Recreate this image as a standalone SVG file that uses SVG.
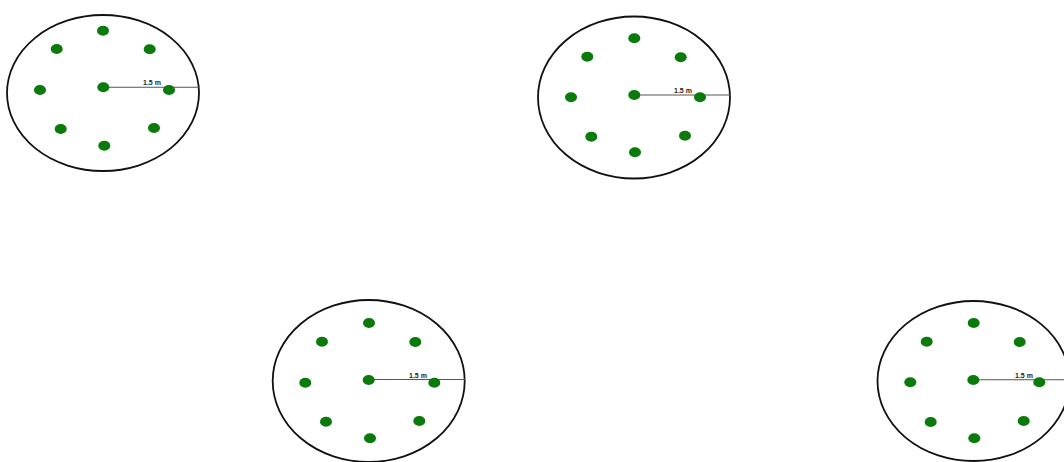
<svg xmlns="http://www.w3.org/2000/svg" width="1064" height="462" viewBox="0 0 1064 462">
  <style>
    .plot { fill: #ffffff; stroke: #111111; stroke-width: 1.8; }
    .tree { fill: #0a7a0a; stroke: none; }
    .radius { stroke: #555555; stroke-width: 1.1; fill: none; }
    .lbl { font-family: "Liberation Sans", Arial, sans-serif; font-size: 7px; font-weight: bold; fill: #222222; }
  </style>
  <rect width="1064" height="462" fill="#ffffff"/>

  <!-- plot 1: top left -->
  <g id="plot-1">
    <ellipse class="plot" cx="103" cy="93" rx="96" ry="78"/>
    <line class="radius" x1="103" y1="87.3" x2="199" y2="87.3"/>
    <text class="lbl" x="143" y="85">1.5 m</text>
    <ellipse class="tree" cx="103.3" cy="87.3" rx="6" ry="5"/>
    <ellipse class="tree" cx="103" cy="30.7" rx="6" ry="5"/>
    <ellipse class="tree" cx="56.7" cy="49" rx="6" ry="5"/>
    <ellipse class="tree" cx="149.7" cy="49.3" rx="6" ry="5"/>
    <ellipse class="tree" cx="40" cy="90" rx="6" ry="5"/>
    <ellipse class="tree" cx="169" cy="90" rx="6" ry="5"/>
    <ellipse class="tree" cx="60.7" cy="129" rx="6" ry="5"/>
    <ellipse class="tree" cx="154" cy="128" rx="6" ry="5"/>
    <ellipse class="tree" cx="104.3" cy="145.7" rx="6" ry="5"/>
  </g>

  <!-- plot 2: top right -->
  <g id="plot-2">
    <ellipse class="plot" cx="634" cy="97.5" rx="96" ry="81"/>
    <line class="radius" x1="634" y1="95" x2="730" y2="95"/>
    <text class="lbl" x="674" y="92.5">1.5 m</text>
    <ellipse class="tree" cx="634.3" cy="95" rx="6" ry="5"/>
    <ellipse class="tree" cx="634.3" cy="38.3" rx="6" ry="5"/>
    <ellipse class="tree" cx="587.3" cy="56.7" rx="6" ry="5"/>
    <ellipse class="tree" cx="680.7" cy="57.3" rx="6" ry="5"/>
    <ellipse class="tree" cx="571" cy="97.3" rx="6" ry="5"/>
    <ellipse class="tree" cx="700" cy="97.3" rx="6" ry="5"/>
    <ellipse class="tree" cx="591.3" cy="136.7" rx="6" ry="5"/>
    <ellipse class="tree" cx="685" cy="135.7" rx="6" ry="5"/>
    <ellipse class="tree" cx="635" cy="152.3" rx="6" ry="5"/>
  </g>

  <!-- plot 3: bottom middle -->
  <g id="plot-3">
    <ellipse class="plot" cx="368.7" cy="381" rx="96" ry="81"/>
    <line class="radius" x1="369" y1="379.5" x2="465" y2="379.5"/>
    <text class="lbl" x="409" y="377.5">1.5 m</text>
    <ellipse class="tree" cx="368.7" cy="380" rx="6" ry="5"/>
    <ellipse class="tree" cx="369" cy="323" rx="6" ry="5"/>
    <ellipse class="tree" cx="322" cy="341.7" rx="6" ry="5"/>
    <ellipse class="tree" cx="415.3" cy="342" rx="6" ry="5"/>
    <ellipse class="tree" cx="305.3" cy="382.7" rx="6" ry="5"/>
    <ellipse class="tree" cx="434.3" cy="382.7" rx="6" ry="5"/>
    <ellipse class="tree" cx="326" cy="421.7" rx="6" ry="5"/>
    <ellipse class="tree" cx="419.3" cy="421" rx="6" ry="5"/>
    <ellipse class="tree" cx="370" cy="438.3" rx="6" ry="5"/>
  </g>

  <!-- plot 4: bottom right -->
  <g id="plot-4">
    <ellipse class="plot" cx="973.5" cy="381" rx="96" ry="80"/>
    <line class="radius" x1="973" y1="379.7" x2="1064" y2="379.7"/>
    <text class="lbl" x="1015" y="377.5">1.5 m</text>
    <ellipse class="tree" cx="973.3" cy="380" rx="6" ry="5"/>
    <ellipse class="tree" cx="973.7" cy="323" rx="6" ry="5"/>
    <ellipse class="tree" cx="926.7" cy="341.7" rx="6" ry="5"/>
    <ellipse class="tree" cx="1019.7" cy="342" rx="6" ry="5"/>
    <ellipse class="tree" cx="910.3" cy="382.3" rx="6" ry="5"/>
    <ellipse class="tree" cx="1039.3" cy="382.3" rx="6" ry="5"/>
    <ellipse class="tree" cx="930.7" cy="422" rx="6" ry="5"/>
    <ellipse class="tree" cx="1023.7" cy="421" rx="6" ry="5"/>
    <ellipse class="tree" cx="974.3" cy="438.3" rx="6" ry="5"/>
  </g>
</svg>
